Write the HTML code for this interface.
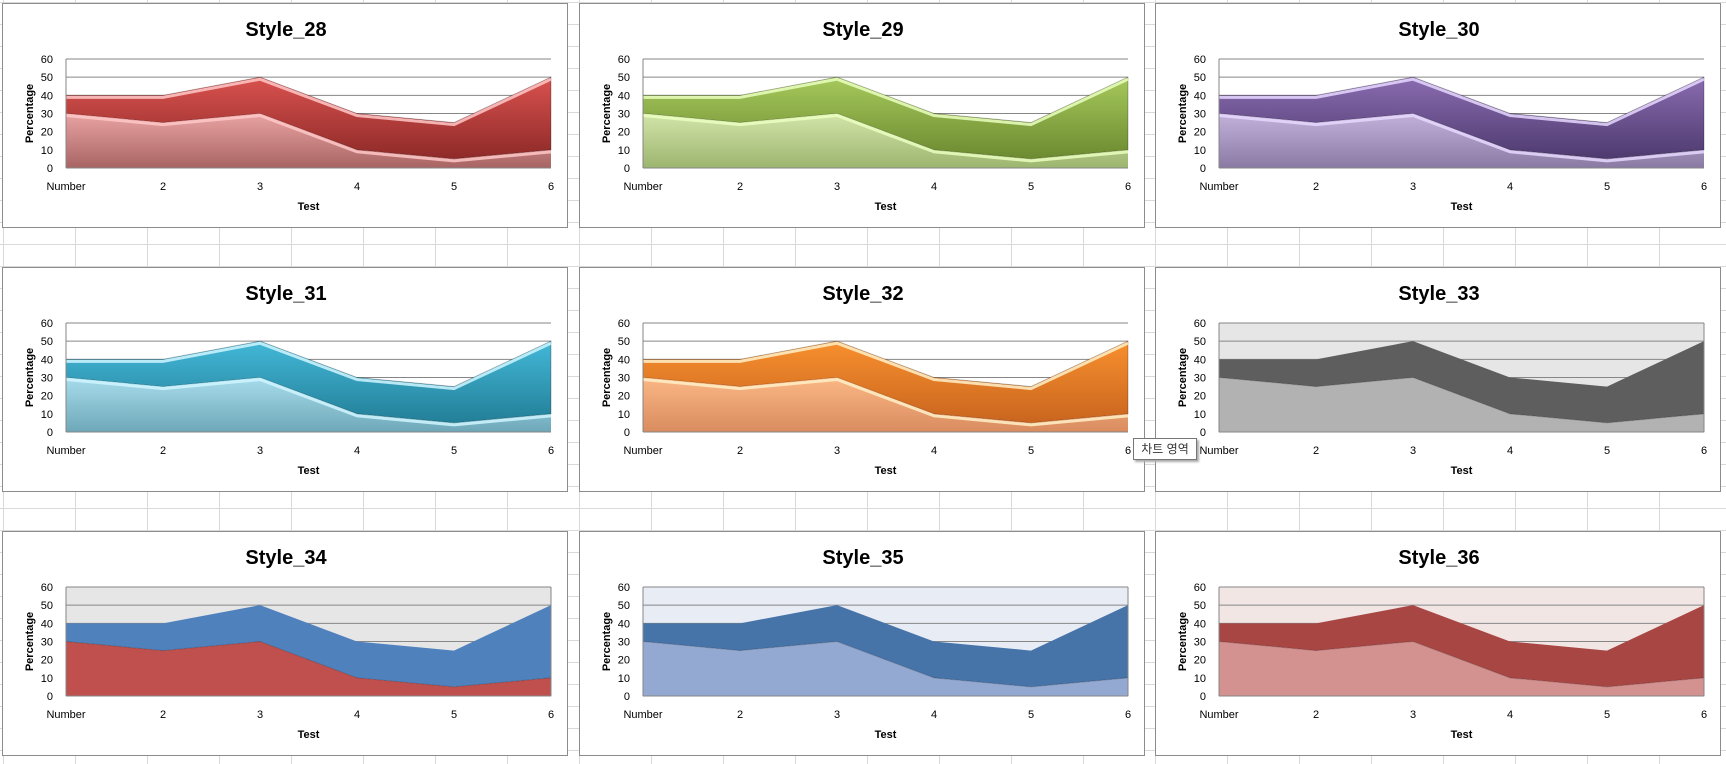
<!DOCTYPE html>
<html><head><meta charset="utf-8"><style>
html,body{margin:0;padding:0;width:1726px;height:764px;overflow:hidden;background:#fff;font-family:"Liberation Sans","Noto Sans CJK KR",sans-serif}
#sheet{position:absolute;left:0;top:0;width:1726px;height:764px;
background-image:linear-gradient(to right,#d9d9d9 1px,transparent 1px),linear-gradient(to bottom,#d9d9d9 1px,transparent 1px);
background-size:72px 22px;background-position:3px 2px}
.chart{position:absolute;width:566px;height:225px;background:#fff;border:1px solid #8c8c8c;box-sizing:border-box}
.tip{position:absolute;left:1133px;top:438px;width:62px;height:20px;background:#fff;border:1px solid #767676;box-shadow:2px 2px 2px #aaa;font-size:12px;line-height:20px;text-align:center;color:#333}
</style></head><body>
<div id="sheet"></div>
<div id="charts"></div>
<div class="tip">차트 영역</div>
<script>
const categories = ["Number","2","3","4","5","6"];
const seriesLower = [30,25,30,10,5,10];
const seriesUpper = [10,15,20,20,20,40];
const yTicks = [0,10,20,30,40,50,60];

const styles = [
 {n:"Style_28",g:1,top:["#d9524f","#8e2a28"],bot:["#e9a3a3","#a86463"],hl:"#ffc8c8",bg:null},
 {n:"Style_29",g:1,top:["#a6c95c","#6c8a30"],bot:["#d3e5ab","#9cb56e"],hl:"#eaffc0",bg:null},
 {n:"Style_30",g:1,top:["#8a6cb0","#4e3a6f"],bot:["#c3b1da","#8a7aa3"],hl:"#e6d8ff",bg:null},
 {n:"Style_31",g:1,top:["#43b8d8","#237f98"],bot:["#a8dcec","#6ea8b8"],hl:"#d0f6ff",bg:null},
 {n:"Style_32",g:1,top:["#f8902e","#c9651f"],bot:["#fbb786","#d98c5f"],hl:"#fff0c8",bg:null},
 {n:"Style_33",g:0,top:["#5e5e5e"],bot:["#b2b2b2"],bg:"#e6e6e6"},
 {n:"Style_34",g:0,top:["#4f81bd"],bot:["#c0504d"],bg:"#e6e6e6"},
 {n:"Style_35",g:0,top:["#4673a8"],bot:["#94a9d1"],bg:"#e8edf5"},
 {n:"Style_36",g:0,top:["#a84644"],bot:["#d39190"],bg:"#f2e6e5"}
];
const colX=[2,579,1155], rowY=[3,267,531];
const PL=63,PR=548,PT=55,PB=164;
function xs(i){return PL+(PR-PL)*i/(categories.length-1);}
function ys(v){return PB-(PB-PT)*v/60;}
const NS="http://www.w3.org/2000/svg";
function el(t,a){const e=document.createElementNS(NS,t);for(const k in a)e.setAttribute(k,a[k]);return e;}
const host=document.getElementById('charts');
styles.forEach((s,idx)=>{
  const d=document.createElement('div');
  d.className='chart';
  
  
  d.style.left=colX[idx%3]+'px';d.style.top=rowY[Math.floor(idx/3)]+'px';
  const svg=el('svg',{width:566,height:225});
  const defs=el('defs',{});svg.appendChild(defs);
  let ft,fb;
  if(s.g){
    const g1=el('linearGradient',{id:'t'+idx,x1:0,y1:0,x2:0,y2:1});
    g1.appendChild(el('stop',{offset:0,'stop-color':s.top[0]}));g1.appendChild(el('stop',{offset:1,'stop-color':s.top[1]}));
    const g2=el('linearGradient',{id:'b'+idx,x1:0,y1:0,x2:0,y2:1});
    g2.appendChild(el('stop',{offset:0,'stop-color':s.bot[0]}));g2.appendChild(el('stop',{offset:1,'stop-color':s.bot[1]}));
    defs.appendChild(g1);defs.appendChild(g2);ft='url(#t'+idx+')';fb='url(#b'+idx+')';
  } else {ft=s.top[0];fb=s.bot[0];}
  const title=el('text',{x:283,y:32,'text-anchor':'middle','font-size':20,'font-weight':'bold',fill:'#000'});
  title.textContent=s.n;svg.appendChild(title);
  if(s.bg){const r=el('rect',{x:PL,y:PT,width:PR-PL,height:PB-PT,fill:s.bg});svg.appendChild(r);}
  yTicks.forEach(t=>{
    const l=el('line',{x1:PL,x2:PR,y1:ys(t),y2:ys(t),stroke:'#868686','stroke-width':1});
    svg.appendChild(l);
    const tx=el('text',{x:50,y:ys(t)+4,'text-anchor':'end','font-size':11,fill:'#000'});
    tx.textContent=t;svg.appendChild(tx);
  });
  const totals=seriesLower.map((v,i)=>v+seriesUpper[i]);
  const lowPts=seriesLower.map((v,i)=>xs(i)+','+ys(v));
  const topPts=totals.map((v,i)=>xs(i)+','+ys(v));
  const upper=el('polygon',{points:topPts.join(' ')+' '+lowPts.slice().reverse().join(' '),fill:ft,stroke:s.g?'#00000040':'none'});
  svg.appendChild(upper);
  const lower=el('polygon',{points:lowPts.join(' ')+' '+xs(categories.length-1)+','+ys(0)+' '+xs(0)+','+ys(0),fill:fb,stroke:s.g?'none':'#00000030'});
  svg.appendChild(lower);
  if(s.g){
    [topPts,lowPts].forEach(p=>{const pl=el('polyline',{points:p.join(' '),fill:'none',stroke:s.hl,'stroke-width':3,'stroke-opacity':0.85,transform:'translate(0,2)'});
      svg.appendChild(pl);});
  }
  svg.appendChild(el('line',{x1:PL,x2:PL,y1:PT,y2:PB,stroke:'#868686'}));
  svg.appendChild(el('line',{x1:PL,x2:PR,y1:PB,y2:PB,stroke:'#868686'}));
  if(s.bg) svg.appendChild(el('line',{x1:PR,x2:PR,y1:PT,y2:PB,stroke:'#868686'}));
  categories.forEach((c,i)=>{
    const tx=el('text',{x:xs(i),y:186,'text-anchor':'middle','font-size':11,fill:'#000'});
    tx.textContent=c;svg.appendChild(tx);
  });
  const xt=el('text',{x:PL+(PR-PL)/2,y:206,'text-anchor':'middle','font-size':11,'font-weight':'bold',fill:'#000'});
  xt.textContent='Test';svg.appendChild(xt);
  const yt=el('text',{x:0,y:0,'text-anchor':'middle','font-size':11,'font-weight':'bold',fill:'#000',transform:'translate(30,'+((PT+PB)/2)+') rotate(-90)'});
  yt.textContent='Percentage';svg.appendChild(yt);
  d.appendChild(svg);host.appendChild(d);
});
</script>
</body></html>
